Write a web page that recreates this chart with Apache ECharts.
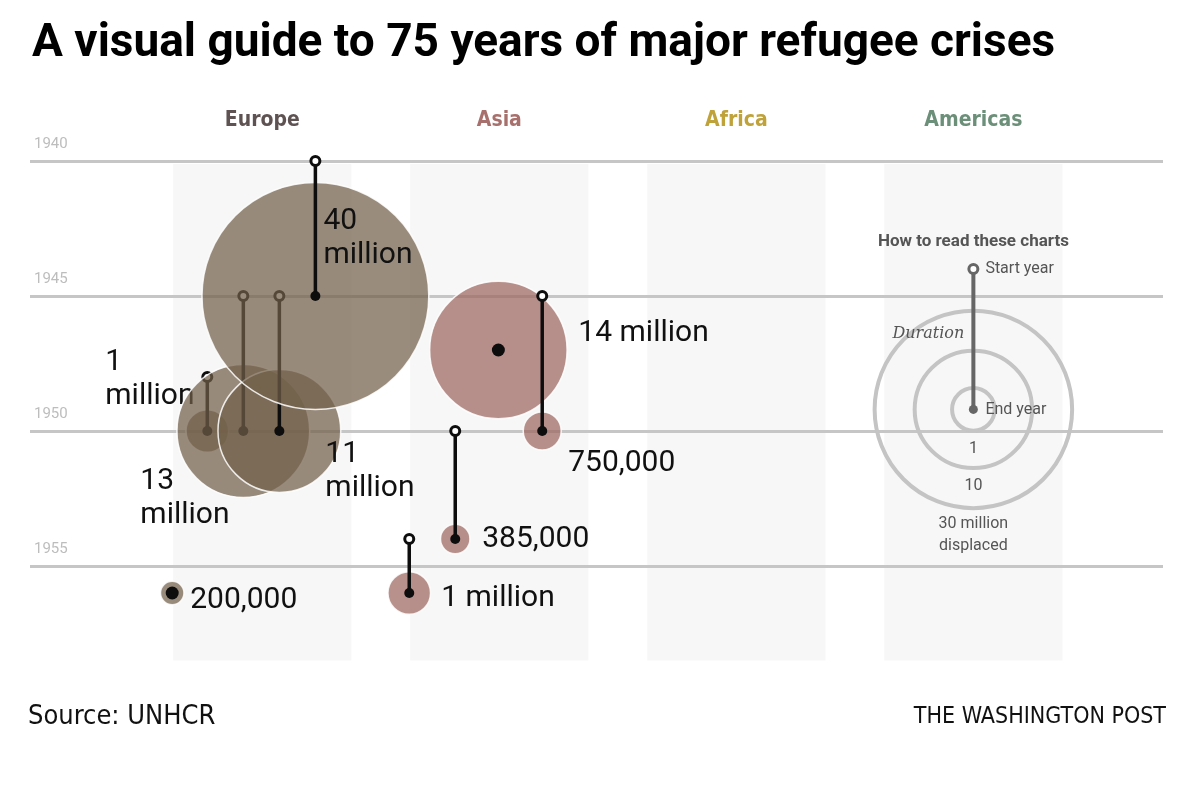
<!DOCTYPE html>
<html>
<head>
<meta charset="utf-8">
<script src="https://cdn.jsdelivr.net/npm/echarts@6/dist/echarts.min.js"></script>
<style>
  html, body { margin: 0; padding: 0; background: #fff; }
  #chart { width: 1200px; height: 785px; }
</style>
</head>
<body>
<div id="chart"></div>
<script>
// регионы (колонки)
const regions = ['Europe', 'Asia', 'Africa', 'Americas'];
const regionColors = ['#5e5352', '#a8706c', '#bfa23a', '#6b8f78'];
const yearTicks = [1940, 1945, 1950, 1955];

// кризисы: позиция в колонке (индекс региона + смещение), годы, млн перемещённых
const crisisLabels = ['1\nmillion', '13\nmillion', '11\nmillion', '40\nmillion', '200,000',
                      '14 million', '750,000', '385,000', '1 million'];
const crisisRegion = [0, 0, 0, 0, 0, 1, 1, 1, 1];
const crisisPos = [-0.232, -0.080, 0.072, 0.224, -0.380, -0.004, 0.181, -0.186, -0.380];
const crisisStart = [1948, 1945, 1945, 1940, 1956, 1947, 1945, 1950, 1954];
const crisisEnd = [1950, 1950, 1950, 1945, 1956, 1947, 1950, 1954, 1956];
const crisisMillions = [1, 13, 11, 40, 0.2, 14, 0.75, 0.385, 1];

// легенда "How to read these charts"
const legendRegion = 3;
const legendStart = 1944;
const legendEnd = 1949.2;
const legendSizes = [1, 10, 30];
const legendSizeLabels = ['1', '10', '30 million\ndisplaced'];

// оформление
const R_BASE = 4;        // минимальный радиус
const R_PER_ROOT = 17.3; // прирост радиуса на sqrt(млн)
const BAND_HALF = 0.376;
const BAND_BOTTOM = 1958.5;
const fills = ['rgba(114,95,74,0.72)', 'rgba(157,103,95,0.72)'];
const SANS = 'Roboto';
const NARROW = '"DejaVu Sans Condensed", Roboto';
// смещения подписей от точки конца (px)
const labelOffsets = [[-102, -52], [-103, 67], [46, 40], [8, -58], [18, 7],
                      [80, -17], [26, 32], [27, 0], [32, 5]];

function radius(v) {
    return R_BASE + R_PER_ROOT * Math.sqrt(v);
}

const dom = document.getElementById('chart');
const myChart = echarts.init(dom, null, { renderer: 'canvas' });

const crisisData = crisisPos.map((p, i) => [crisisRegion[i] + p, crisisStart[i], crisisEnd[i], crisisMillions[i], crisisRegion[i]]);

const option = {
    animation: false,
    title: {
        text: 'A visual guide to 75 years of major refugee crises',
        left: 27,
        top: 16,
        textStyle: { fontFamily: SANS, fontWeight: 'bold', fontSize: 46, color: '#000' }
    },
    grid: { left: 30, right: 37, top: 161, bottom: 219 },
    xAxis: { type: 'value', min: -0.98, max: 3.8, show: false },
    yAxis: {
        type: 'value',
        inverse: true,
        min: 1940,
        max: 1955,
        interval: 5,
        z: 2,
        axisLine: { show: false },
        axisTick: { show: false },
        splitLine: { lineStyle: { color: '#c6c6c6', width: 3 } },
        axisLabel: {
            inside: true,
            margin: 4,
            verticalAlign: 'bottom',
            padding: [0, 0, 9, 0],
            color: '#bdbdbd',
            fontFamily: SANS,
            fontSize: 15,
            formatter: v => yearTicks.includes(v) ? String(v) : ''
        }
    },
    graphic: [
        { type: 'text', left: 28, top: 703, style: { text: 'Source: UNHCR', font: '27px ' + NARROW, fill: '#111' } },
        { type: 'text', right: 34, top: 706, style: { text: 'THE WASHINGTON POST', font: '23px ' + NARROW, fill: '#111' } }
    ],
    series: [
        {
            // серые колонки регионов и заголовки
            type: 'custom',
            z: 1,
            clip: false,
            data: regions.map((r, i) => [i]),
            renderItem: function (params, api) {
                const i = api.value(0);
                const tl = api.coord([i - BAND_HALF, 1940]);
                const br = api.coord([i + BAND_HALF, BAND_BOTTOM]);
                const c = api.coord([i, 1940]);
                return {
                    type: 'group',
                    children: [
                        { type: 'rect', shape: { x: tl[0], y: tl[1] + 3, width: br[0] - tl[0], height: br[1] - tl[1] - 3 }, style: { fill: '#f7f7f7' } },
                        { type: 'text', style: { text: regions[i], x: c[0], y: c[1] - 40, align: 'center', verticalAlign: 'middle',
                            font: 'bold 21px ' + NARROW, fill: regionColors[i] } }
                    ]
                };
            }
        },
        {
            // кризисы: круг + линия длительности + подпись
            type: 'custom',
            z: 3,
            clip: false,
            data: crisisData,
            renderItem: function (params, api) {
                const idx = params.dataIndex;
                const x = api.value(0), y0 = api.value(1), y1 = api.value(2), v = api.value(3), reg = api.value(4);
                const p0 = api.coord([x, y0]);
                const p1 = api.coord([x, y1]);
                const children = [
                    { type: 'circle', shape: { cx: p1[0], cy: p1[1], r: radius(v) },
                      style: { fill: fills[reg], stroke: 'rgba(255,255,255,0.85)', lineWidth: 1.5 } }
                ];
                if (y1 > y0) {
                    children.push({ type: 'line', shape: { x1: p0[0], y1: p0[1], x2: p1[0], y2: p1[1] }, style: { stroke: '#0d0d0d', lineWidth: 3.5 } });
                    children.push({ type: 'circle', shape: { cx: p0[0], cy: p0[1], r: 4.5 }, style: { fill: '#fff', stroke: '#0d0d0d', lineWidth: 3 } });
                    children.push({ type: 'circle', shape: { cx: p1[0], cy: p1[1], r: 5 }, style: { fill: '#0d0d0d' } });
                } else {
                    children.push({ type: 'circle', shape: { cx: p1[0], cy: p1[1], r: 6.5 }, style: { fill: '#0d0d0d' } });
                }
                const off = labelOffsets[idx];
                children.push({
                    type: 'text',
                    style: { text: crisisLabels[idx], x: p1[0] + off[0], y: p1[1] + off[1], align: 'left', verticalAlign: 'middle',
                             font: '30px ' + SANS, lineHeight: 34, fill: '#111' }
                });
                return { type: 'group', children: children };
            }
        },
        {
            // легенда
            type: 'custom',
            z: 3,
            clip: false,
            data: [[legendRegion, legendStart, legendEnd]],
            renderItem: function (params, api) {
                const x = api.value(0);
                const p0 = api.coord([x, api.value(1)]);
                const p1 = api.coord([x, api.value(2)]);
                const grey = '#666';
                const txt = '#555';
                const children = [];
                legendSizes.forEach((s, k) => {
                    const r = radius(s);
                    children.push({ type: 'circle', shape: { cx: p1[0], cy: p1[1], r: r }, style: { fill: 'none', stroke: '#c4c4c4', lineWidth: 4 } });
                    children.push({ type: 'text', style: { text: legendSizeLabels[k], x: p1[0], y: p1[1] + r + (k === 2 ? 5 : 18),
                        align: 'center', verticalAlign: k === 2 ? 'top' : 'middle', font: '16px ' + SANS, lineHeight: 22, fill: txt } });
                });
                children.push({ type: 'line', shape: { x1: p0[0], y1: p0[1], x2: p1[0], y2: p1[1] }, style: { stroke: grey, lineWidth: 4 } });
                children.push({ type: 'circle', shape: { cx: p0[0], cy: p0[1], r: 4.5 }, style: { fill: '#fff', stroke: grey, lineWidth: 3 } });
                children.push({ type: 'circle', shape: { cx: p1[0], cy: p1[1], r: 4.5 }, style: { fill: grey } });
                children.push({ type: 'text', style: { text: 'Start year', x: p0[0] + 12, y: p0[1], align: 'left', verticalAlign: 'middle', font: '16px ' + SANS, fill: txt } });
                children.push({ type: 'text', style: { text: 'End year', x: p1[0] + 12, y: p1[1] + 1, align: 'left', verticalAlign: 'middle', font: '16px ' + SANS, fill: txt } });
                children.push({ type: 'text', style: { text: 'Duration', x: p1[0] - 81, y: p1[1] - 76, align: 'left', verticalAlign: 'middle', font: 'italic 16px "DejaVu Serif"', fill: txt } });
                children.push({ type: 'text', style: { text: 'How to read these charts', x: p0[0], y: p0[1] - 27, align: 'center', verticalAlign: 'middle', font: 'bold 17px ' + SANS, fill: txt } });
                return { type: 'group', children: children };
            }
        }
    ]
};

myChart.setOption(option);

window.addEventListener('resize', function () {
    myChart.resize();
});
</script>
</body>
</html>
